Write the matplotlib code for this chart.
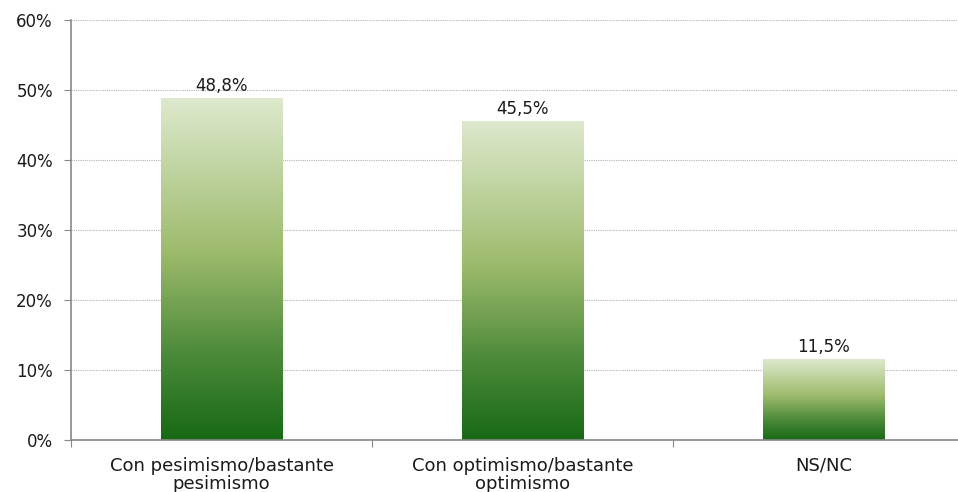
import numpy as np
import matplotlib
matplotlib.use("Agg")
import matplotlib.pyplot as plt
from matplotlib.colors import LinearSegmentedColormap

categories = ["Con pesimismo/bastante\npesimismo", "Con optimismo/bastante\noptimismo", "NS/NC"]
values = [48.8, 45.5, 11.5]
value_labels = ["48,8%", "45,5%", "11,5%"]
y_ticks = [0, 10, 20, 30, 40, 50, 60]

plt.rcParams["font.family"] = ["DejaVu Sans"]

fig = plt.figure(figsize=(9.58, 4.92), dpi=100)
ax = fig.add_axes([71 / 958, 1 - 440 / 492, 903 / 958, 420 / 492])

# vertical gradient, dark at the bottom, pale at the top
cmap = LinearSegmentedColormap.from_list(
    "greens", [(0.0, "#176915"), (0.25, "#4b8a39"), (0.55, "#9dbb6c"), (1.0, "#dde9cd")])
grad = np.linspace(0, 1, 256).reshape(-1, 1)

width = 0.405
x = np.arange(len(categories))
for xi, v, lab in zip(x, values, value_labels):
    ax.imshow(grad, cmap=cmap, origin="lower", aspect="auto",
              extent=(xi - width / 2, xi + width / 2, 0, v), zorder=2)
    ax.text(xi, v + 0.5, lab, ha="center", va="bottom", fontsize=12, color="#1a1a1a")

ax.set_xlim(-0.5, 2.5)
ax.set_ylim(0, 60)
ax.set_yticks(y_ticks)
ax.set_yticklabels([f"{t}%" for t in y_ticks], fontsize=12, color="#1a1a1a")
ax.yaxis.grid(True, linestyle=(0, (1, 1)), color="#b4b4b4", linewidth=0.8, zorder=0)
ax.set_axisbelow(True)

ax.set_xticks([-0.5, 0.5, 1.5, 2.5])
ax.set_xticklabels([])
ax.set_xticks(x, minor=True)
ax.set_xticklabels(categories, minor=True, fontsize=13, linespacing=1.0, color="#1a1a1a")
ax.tick_params(axis="x", which="minor", length=0, pad=12)
ax.tick_params(axis="x", which="major", length=5, color="#888888")
ax.tick_params(axis="y", length=5, color="#888888", pad=8)

for side in ["top", "right"]:
    ax.spines[side].set_visible(False)
for side in ["left", "bottom"]:
    ax.spines[side].set_color("#888888")
    ax.spines[side].set_linewidth(1.2)

fig.savefig("out.png", dpi=100)
